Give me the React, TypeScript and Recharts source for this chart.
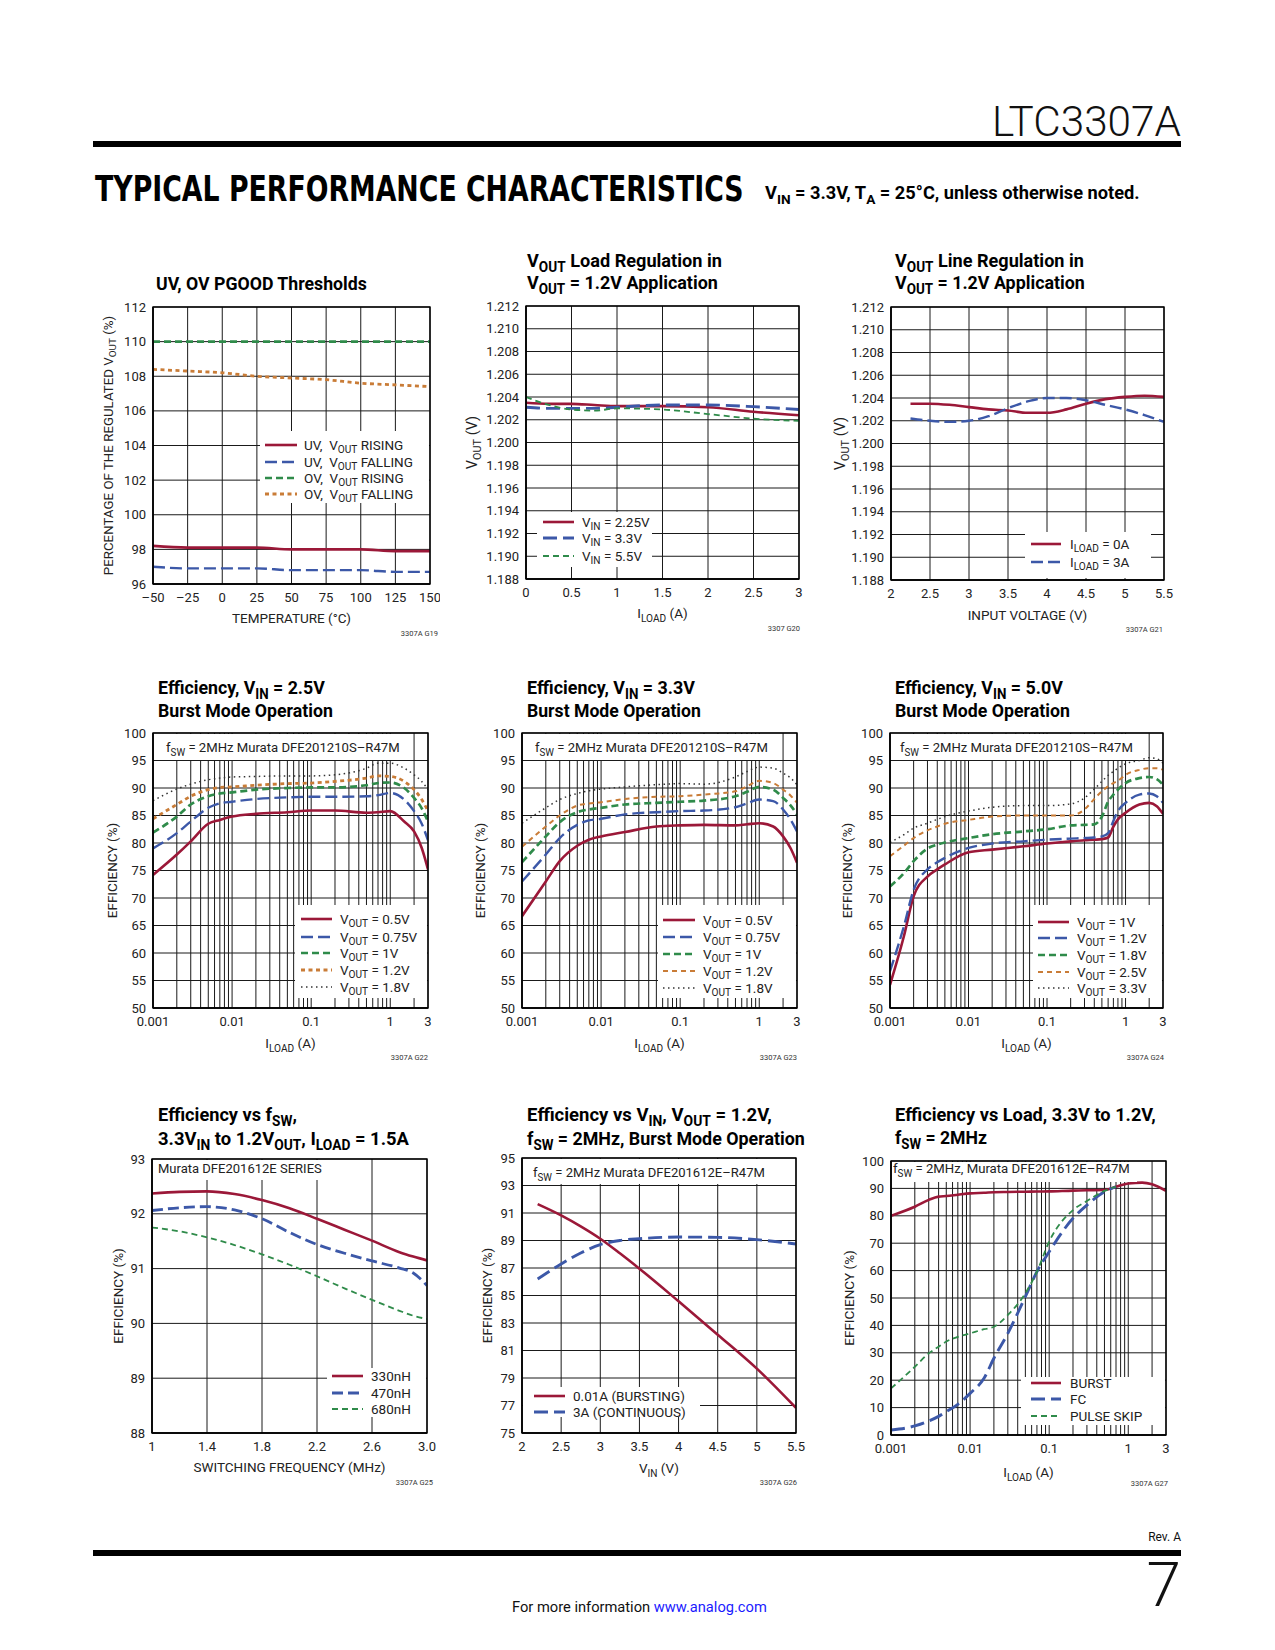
import React, { useLayoutEffect, useRef, useState } from 'react';
import { LineChart, Line, XAxis, YAxis, CartesianGrid } from 'recharts';

// ---------------- DATA ----------------
// G19 UV/OV PGOOD thresholds
const g19Temp = [-50, -25, 0, 25, 50, 75, 100, 125, 150];
const g19UvRising = [98.2, 98.1, 98.1, 98.1, 98.0, 98.0, 98.0, 97.9, 97.9];
const g19UvFalling = [97.0, 96.9, 96.9, 96.9, 96.8, 96.8, 96.8, 96.7, 96.7];
const g19OvRising = [110, 110, 110, 110, 110, 110, 110, 110, 110];
const g19OvFalling = [108.4, 108.3, 108.2, 108.0, 107.9, 107.8, 107.6, 107.5, 107.4];
const g19XTicks = [-50, -25, 0, 25, 50, 75, 100, 125, 150];
const g19YTicks = [96, 98, 100, 102, 104, 106, 108, 110, 112];

// G20 load regulation
const g20Load = [0, 0.25, 0.5, 0.75, 1, 1.5, 2, 2.5, 3];
const g20Vin225 = [1.2035, 1.2034, 1.2034, 1.2033, 1.2032, 1.2032, 1.2031, 1.2027, 1.2024];
const g20Vin33 = [1.2031, 1.203, 1.203, 1.203, 1.2031, 1.2033, 1.2033, 1.20315, 1.2029];
const g20Vin55 = [1.204, 1.2033, 1.2029, 1.2028, 1.203, 1.2029, 1.2025, 1.2021, 1.2019];
const g20XTicks = [0, 0.5, 1, 1.5, 2, 2.5, 3];
const vYTicks = [1.188, 1.19, 1.192, 1.194, 1.196, 1.198, 1.2, 1.202, 1.204, 1.206, 1.208, 1.21, 1.212];

// G21 line regulation
const g21Vin = [2.25, 2.5, 2.75, 3.0, 3.25, 3.5, 3.75, 4.0, 4.25, 4.5, 4.75, 5.0, 5.25, 5.5];
const g21Load0 = [1.2035, 1.2035, 1.2034, 1.2032, 1.203, 1.2029, 1.2027, 1.2027, 1.203, 1.2035, 1.2039, 1.2041, 1.2042, 1.2041];
const g21Load3 = [1.2022, 1.202, 1.2019, 1.202, 1.2024, 1.2031, 1.2037, 1.204, 1.204, 1.2038, 1.2034, 1.203, 1.2025, 1.2019];
const g21XTicks = [2, 2.5, 3, 3.5, 4, 4.5, 5, 5.5];

// log load axis (G22, G23, G24, G27)
const logTicks = [0.001, 0.01, 0.1, 1, 3];
const logGrid = [0.001, 0.002, 0.003, 0.004, 0.005, 0.006, 0.007, 0.008, 0.009, 0.01, 0.02, 0.03, 0.04, 0.05, 0.06, 0.07, 0.08, 0.09, 0.1, 0.2, 0.3, 0.4, 0.5, 0.6, 0.7, 0.8, 0.9, 1, 2, 3];
const effTicks = [50, 55, 60, 65, 70, 75, 80, 85, 90, 95, 100];

// G22 efficiency VIN = 2.5V
const g22Load = [0.001, 0.002, 0.003, 0.005, 0.007, 0.01, 0.02, 0.05, 0.1, 0.2, 0.5, 0.7, 1, 1.5, 2, 2.5, 3];
const g22Vout05 = [74.2, 77.9, 80.3, 83.5, 84.2, 84.8, 85.3, 85.6, 85.9, 85.9, 85.5, 85.6, 85.8, 83.9, 82.1, 79.1, 75.2];
const g22Vout075 = [79.0, 81.8, 83.9, 86.4, 87.2, 87.5, 88.0, 88.3, 88.4, 88.4, 88.5, 88.7, 89.1, 87.9, 85.8, 83.5, 80.5];
const g22Vout1 = [81.9, 84.8, 87.0, 88.5, 89.0, 89.2, 89.7, 90.0, 90.1, 90.1, 90.5, 90.9, 91.0, 90.0, 88.2, 86.3, 83.9];
const g22Vout12 = [84.4, 87.0, 88.5, 89.7, 90.1, 90.2, 90.5, 90.8, 90.9, 91.2, 91.8, 92.2, 92.1, 91.2, 89.7, 87.9, 85.8];
const g22Vout18 = [87.7, 89.8, 90.7, 91.5, 91.8, 92.0, 92.1, 92.2, 92.2, 92.4, 93.6, 94.5, 94.5, 93.6, 92.4, 91.2, 89.7];

// G23 efficiency VIN = 3.3V
const g23Load = [0.001, 0.002, 0.003, 0.005, 0.007, 0.01, 0.02, 0.05, 0.1, 0.2, 0.5, 0.7, 1, 1.5, 2, 2.5, 3];
const g23Vout05 = [66.7, 73.0, 76.7, 79.5, 80.6, 81.2, 82.0, 83.0, 83.2, 83.3, 83.2, 83.4, 83.6, 83.0, 81.2, 79.0, 76.4];
const g23Vout075 = [73.0, 77.9, 80.9, 83.3, 84.1, 84.4, 85.2, 85.6, 85.8, 85.9, 86.5, 87.2, 87.9, 87.6, 86.1, 84.2, 82.1];
const g23Vout1 = [76.5, 81.2, 83.8, 85.6, 86.1, 86.4, 87.0, 87.3, 87.5, 87.7, 88.5, 89.3, 90.2, 89.7, 88.2, 86.8, 85.2];
const g23Vout12 = [79.3, 83.0, 85.0, 86.8, 87.2, 87.4, 88.0, 88.4, 88.5, 88.8, 89.4, 90.3, 91.3, 90.9, 89.7, 88.6, 87.3];
const g23Vout18 = [83.6, 86.4, 87.9, 89.0, 89.5, 89.8, 90.2, 90.6, 90.8, 90.7, 92.0, 93.0, 93.8, 93.6, 92.7, 91.8, 90.6];

// G24 efficiency VIN = 5.0V
const g24Load = [0.001, 0.0015, 0.002, 0.003, 0.004, 0.005, 0.01, 0.02, 0.05, 0.1, 0.2, 0.3, 0.4, 0.5, 0.6, 0.7, 0.8, 1, 1.5, 2, 2.5, 3];
const g24Vout1 = [54.2, 63.0, 70.3, 73.9, 75.2, 76.1, 78.3, 78.8, 79.4, 79.9, 80.3, 80.5, 80.6, 80.7, 81.0, 83.0, 84.3, 85.5, 87.0, 87.3, 86.7, 85.3];
const g24Vout12 = [56.7, 64.8, 71.5, 75.2, 76.5, 77.3, 79.1, 79.9, 80.3, 80.6, 80.8, 80.9, 81.0, 81.2, 81.8, 84.0, 85.8, 87.3, 88.8, 89.0, 88.5, 87.3];
const g24Vout18 = [72.1, 74.5, 76.7, 79.0, 79.7, 80.1, 80.9, 81.6, 82.1, 82.5, 83.2, 83.3, 83.4, 84.8, 87.5, 88.8, 89.7, 90.9, 91.8, 92.0, 91.6, 90.6];
const g24Vout25 = [77.6, 79.5, 80.9, 82.3, 83.0, 83.5, 84.2, 84.8, 85.0, 85.0, 85.0, 86.1, 88.0, 89.4, 90.3, 90.9, 91.3, 92.4, 93.3, 93.6, 93.6, 93.3];
const g24Vout33 = [80.1, 81.5, 82.7, 83.6, 84.3, 84.8, 85.8, 86.5, 86.8, 86.8, 87.1, 88.2, 89.8, 91.2, 92.3, 93.0, 93.6, 94.4, 95.0, 95.5, 95.3, 94.5];

// G25 efficiency vs fSW
const g25Freq = [1.0, 1.2, 1.4, 1.6, 1.8, 2.0, 2.2, 2.4, 2.6, 2.8, 2.9, 3.0];
const g25L330 = [92.37, 92.4, 92.41, 92.36, 92.25, 92.1, 91.91, 91.71, 91.51, 91.3, 91.22, 91.15];
const g25L470 = [92.06, 92.11, 92.13, 92.07, 91.91, 91.66, 91.44, 91.28, 91.14, 91.01, 90.92, 90.69];
const g25L680 = [91.75, 91.68, 91.57, 91.43, 91.26, 91.07, 90.86, 90.64, 90.43, 90.23, 90.14, 90.08];
const g25XTicks = [1, 1.4, 1.8, 2.2, 2.6, 3];
const g25YTicks = [88, 89, 90, 91, 92, 93];

// G26 efficiency vs VIN
const g26Vin = [2.2, 2.5, 2.75, 3.0, 3.25, 3.5, 4.0, 4.5, 5.0, 5.5];
const g26Bursting = [91.65, 90.83, 90.03, 89.13, 88.07, 86.95, 84.58, 82.15, 79.68, 76.82];
const g26Continuous = [86.2, 87.29, 88.09, 88.7, 89.0, 89.13, 89.25, 89.23, 89.06, 88.75];
const g26XTicks = [2, 2.5, 3, 3.5, 4, 4.5, 5, 5.5];
const g26YTicks = [75, 77, 79, 81, 83, 85, 87, 89, 91, 93, 95];

// G27 efficiency vs load, modes
const g27Load = [0.001, 0.002, 0.003, 0.004, 0.005, 0.007, 0.01, 0.015, 0.02, 0.03, 0.05, 0.07, 0.1, 0.2, 0.3, 0.5, 0.7, 1, 1.5, 2, 3];
const g27Burst = [80.0, 83.3, 85.8, 87.0, 87.2, 87.7, 88.2, 88.4, 88.6, 88.7, 88.8, 88.85, 88.9, 89.2, 89.3, 89.4, 90.6, 91.8, 92.1, 91.5, 89.1];
const g27LoadLow = [0.001, 0.002, 0.003, 0.004, 0.005, 0.007, 0.01, 0.015, 0.02, 0.03, 0.05, 0.07, 0.1, 0.2, 0.3, 0.5, 0.7];
const g27Fc = [1.8, 3.3, 5.1, 6.8, 8.5, 11.2, 15.2, 20.7, 28.0, 37.1, 50.5, 59.6, 66.9, 79.1, 83.9, 88.8, 90.6];
const g27PulseSkip = [17.0, 24.9, 29.8, 32.2, 34.1, 35.8, 37.1, 38.6, 39.5, 43.8, 51.7, 59.6, 70.6, 82.1, 85.4, 89.1, 90.6];
const g27YTicks = [0, 10, 20, 30, 40, 50, 60, 70, 80, 90, 100];

// ---------------- STYLE ----------------
const FONT = "Roboto, 'Liberation Sans', Arial, sans-serif";
const RED = '#9b1838';
const BLUE = '#3c58a8';
const GREEN = '#2f8b4a';
const ORANGE = '#c97c37';
const DARK = '#333333';

const ST: Record<string, any> = {
  red: { stroke: RED, strokeWidth: 2.6 },
  blue: { stroke: BLUE, strokeWidth: 2.4, strokeDasharray: '12 5' },
  blueThick: { stroke: BLUE, strokeWidth: 2.9, strokeDasharray: '14 6' },
  green: { stroke: GREEN, strokeWidth: 2.7, strokeDasharray: '7 4' },
  greenThin: { stroke: GREEN, strokeWidth: 1.8, strokeDasharray: '6 4' },
  orangeDot: { stroke: ORANGE, strokeWidth: 2.8, strokeDasharray: '4 3.5' },
  orangeDash: { stroke: ORANGE, strokeWidth: 2, strokeDasharray: '5 4' },
  dotted: { stroke: DARK, strokeWidth: 1.5, strokeDasharray: '1.5 3.5' },
};

const pts = (xs: number[], ys: number[]) => xs.map((x, i) => ({ x, y: ys[i] }));

type Seg = { t: string; sub: boolean };
const parse = (s: string): Seg[] => {
  const out: Seg[] = [];
  const re = /_\{([^}]*)\}/g;
  let last = 0;
  let m: RegExpExecArray | null;
  while ((m = re.exec(s))) {
    if (m.index > last) out.push({ t: s.slice(last, m.index), sub: false });
    out.push({ t: m[1], sub: true });
    last = re.lastIndex;
  }
  if (last < s.length) out.push({ t: s.slice(last), sub: false });
  return out;
};

const Rich = ({ s, fs }: { s: string; fs: number }) => {
  const segs = parse(s);
  let cur = 0;
  return (
    <>
      {segs.map((g, i) => {
        const target = g.sub ? fs * 0.27 : 0;
        const dy = target - cur;
        cur = target;
        return (
          <tspan key={i} dy={dy === 0 ? undefined : dy} fontSize={g.sub ? fs * 0.75 : fs}>
            {g.t}
          </tspan>
        );
      })}
    </>
  );
};

// text squeezed horizontally to a target width with a transform
function FitText({ x, y, width, children, ...rest }: any) {
  const ref = useRef<SVGTextElement>(null);
  const [sx, setSx] = useState(1);
  useLayoutEffect(() => {
    if (ref.current) {
      const w = ref.current.getComputedTextLength();
      if (w > 0) setSx(width / w);
    }
  }, [width]);
  return (
    <text ref={ref} x={0} y={0} transform={`translate(${x} ${y}) scale(${sx} 1)`} style={{ whiteSpace: 'pre' }} {...rest}>
      {children}
    </text>
  );
}

type Series = { name: string; style: any; xs: number[]; ys: number[] };
type ChartDef = {
  plot: [number, number, number, number];
  titleX: number;
  title: { s: string; y: number; len: number }[];
  xDomain: [number, number];
  xTicks: number[];
  xGrid: number[];
  xLog?: boolean;
  xFmt?: (v: number) => string;
  yDomain: [number, number];
  yTicks: number[];
  yGrid: number[];
  yFmt?: (v: number) => string;
  xTitle: string;
  xTitleY: number;
  yTitle: string;
  yTitleX: number;
  yTitleFs: number;
  series: Series[];
  legend: { box: [number, number, number, number]; rows: number[]; sample: [number, number]; textX: number };
  note?: { s: string; box: [number, number, number, number]; x: number; y: number; len: number };
  code: string;
  codeRight: number;
  codeY: number;
};

const fmt3 = (v: number) => v.toFixed(3);

const charts: ChartDef[] = [
  {
    plot: [153, 307, 277, 277],
    titleX: 156,
    title: [{ s: 'UV, OV PGOOD Thresholds', y: 290, len: 211 }],
    xDomain: [-50, 150], xTicks: g19XTicks, xGrid: g19XTicks,
    xFmt: (v) => (v < 0 ? `\u2013${-v}` : `${v}`),
    yDomain: [96, 112], yTicks: g19YTicks, yGrid: g19YTicks,
    xTitle: 'TEMPERATURE (\u00b0C)', xTitleY: 618,
    yTitle: 'PERCENTAGE OF THE REGULATED V_{OUT} (%)', yTitleX: 108, yTitleFs: 13.3,
    series: [
      { name: 'UV,  V_{OUT} RISING', style: ST.red, xs: g19Temp, ys: g19UvRising },
      { name: 'UV,  V_{OUT} FALLING', style: ST.blue, xs: g19Temp, ys: g19UvFalling },
      { name: 'OV,  V_{OUT} RISING', style: ST.green, xs: g19Temp, ys: g19OvRising },
      { name: 'OV,  V_{OUT} FALLING', style: ST.orangeDot, xs: g19Temp, ys: g19OvFalling },
    ],
    legend: { box: [260, 431, 169, 72], rows: [445, 462, 478, 494], sample: [265, 297], textX: 304 },
    code: '3307A G19', codeRight: 438, codeY: 636,
  },
  {
    plot: [526, 306, 273, 273],
    titleX: 527,
    title: [
      { s: 'V_{OUT} Load Regulation in', y: 267, len: 195 },
      { s: 'V_{OUT} = 1.2V Application', y: 289, len: 191 },
    ],
    xDomain: [0, 3], xTicks: g20XTicks, xGrid: g20XTicks,
    yDomain: [1.188, 1.212], yTicks: vYTicks, yGrid: vYTicks, yFmt: fmt3,
    xTitle: 'I_{LOAD} (A)', xTitleY: 613,
    yTitle: 'V_{OUT} (V)', yTitleX: 472, yTitleFs: 14.5,
    series: [
      { name: 'V_{IN} = 2.25V', style: ST.red, xs: g20Load, ys: g20Vin225 },
      { name: 'V_{IN} = 3.3V', style: ST.blueThick, xs: g20Load, ys: g20Vin33 },
      { name: 'V_{IN} = 5.5V', style: ST.greenThin, xs: g20Load, ys: g20Vin55 },
    ],
    legend: { box: [537, 512, 115, 55], rows: [522, 538, 556], sample: [543, 574], textX: 582 },
    code: '3307 G20', codeRight: 800, codeY: 631,
  },
  {
    plot: [891, 307, 273, 273],
    titleX: 895,
    title: [
      { s: 'V_{OUT} Line Regulation in', y: 267, len: 189 },
      { s: 'V_{OUT} = 1.2V Application', y: 289, len: 190 },
    ],
    xDomain: [2, 5.5], xTicks: g21XTicks, xGrid: g21XTicks,
    yDomain: [1.188, 1.212], yTicks: vYTicks, yGrid: vYTicks, yFmt: fmt3,
    xTitle: 'INPUT VOLTAGE (V)', xTitleY: 615,
    yTitle: 'V_{OUT} (V)', yTitleX: 840, yTitleFs: 14.5,
    series: [
      { name: 'I_{LOAD} = 0A', style: ST.red, xs: g21Vin, ys: g21Load0 },
      { name: 'I_{LOAD} = 3A', style: ST.blue, xs: g21Vin, ys: g21Load3 },
    ],
    legend: { box: [1025, 532, 126, 46], rows: [544, 562], sample: [1031, 1061], textX: 1070 },
    code: '3307A G21', codeRight: 1163, codeY: 632,
  },
  {
    plot: [153, 733, 275, 275],
    titleX: 158,
    title: [
      { s: 'Efficiency, V_{IN} = 2.5V', y: 694, len: 167 },
      { s: 'Burst Mode Operation', y: 717, len: 175 },
    ],
    xDomain: [0.001, 3], xTicks: logTicks, xGrid: logGrid, xLog: true,
    yDomain: [50, 100], yTicks: effTicks, yGrid: effTicks,
    xTitle: 'I_{LOAD} (A)', xTitleY: 1043,
    yTitle: 'EFFICIENCY (%)', yTitleX: 112, yTitleFs: 13.5,
    series: [
      { name: 'V_{OUT} = 0.5V', style: ST.red, xs: g22Load, ys: g22Vout05 },
      { name: 'V_{OUT} = 0.75V', style: ST.blue, xs: g22Load, ys: g22Vout075 },
      { name: 'V_{OUT} = 1V', style: ST.green, xs: g22Load, ys: g22Vout1 },
      { name: 'V_{OUT} = 1.2V', style: ST.orangeDot, xs: g22Load, ys: g22Vout12 },
      { name: 'V_{OUT} = 1.8V', style: ST.dotted, xs: g22Load, ys: g22Vout18 },
    ],
    legend: { box: [295, 905, 132, 93], rows: [919, 937, 953, 970, 987], sample: [301, 332], textX: 340 },
    note: { s: 'f_{SW} = 2MHz Murata DFE201210S\u2013R47M', box: [154, 734, 256, 26], x: 166, y: 752, len: 234 },
    code: '3307A G22', codeRight: 428, codeY: 1060,
  },
  {
    plot: [522, 733, 275, 275],
    titleX: 527,
    title: [
      { s: 'Efficiency, V_{IN} = 3.3V', y: 694, len: 168 },
      { s: 'Burst Mode Operation', y: 717, len: 174 },
    ],
    xDomain: [0.001, 3], xTicks: logTicks, xGrid: logGrid, xLog: true,
    yDomain: [50, 100], yTicks: effTicks, yGrid: effTicks,
    xTitle: 'I_{LOAD} (A)', xTitleY: 1043,
    yTitle: 'EFFICIENCY (%)', yTitleX: 480, yTitleFs: 13.5,
    series: [
      { name: 'V_{OUT} = 0.5V', style: ST.red, xs: g23Load, ys: g23Vout05 },
      { name: 'V_{OUT} = 0.75V', style: ST.blue, xs: g23Load, ys: g23Vout075 },
      { name: 'V_{OUT} = 1V', style: ST.green, xs: g23Load, ys: g23Vout1 },
      { name: 'V_{OUT} = 1.2V', style: ST.orangeDash, xs: g23Load, ys: g23Vout12 },
      { name: 'V_{OUT} = 1.8V', style: ST.dotted, xs: g23Load, ys: g23Vout18 },
    ],
    legend: { box: [658, 905, 138, 93], rows: [920, 937, 954, 971, 988], sample: [663, 695], textX: 703 },
    note: { s: 'f_{SW} = 2MHz Murata DFE201210S\u2013R47M', box: [523, 734, 257, 26], x: 535, y: 752, len: 233 },
    code: '3307A G23', codeRight: 797, codeY: 1060,
  },
  {
    plot: [890, 733, 273, 275],
    titleX: 895,
    title: [
      { s: 'Efficiency, V_{IN} = 5.0V', y: 694, len: 168 },
      { s: 'Burst Mode Operation', y: 717, len: 175 },
    ],
    xDomain: [0.001, 3], xTicks: logTicks, xGrid: logGrid, xLog: true,
    yDomain: [50, 100], yTicks: effTicks, yGrid: effTicks,
    xTitle: 'I_{LOAD} (A)', xTitleY: 1043,
    yTitle: 'EFFICIENCY (%)', yTitleX: 847, yTitleFs: 13.5,
    series: [
      { name: 'V_{OUT} = 1V', style: ST.red, xs: g24Load, ys: g24Vout1 },
      { name: 'V_{OUT} = 1.2V', style: ST.blue, xs: g24Load, ys: g24Vout12 },
      { name: 'V_{OUT} = 1.8V', style: ST.green, xs: g24Load, ys: g24Vout18 },
      { name: 'V_{OUT} = 2.5V', style: ST.orangeDash, xs: g24Load, ys: g24Vout25 },
      { name: 'V_{OUT} = 3.3V', style: ST.dotted, xs: g24Load, ys: g24Vout33 },
    ],
    legend: { box: [1033, 905, 129, 93], rows: [922, 938, 955, 972, 988], sample: [1038, 1069], textX: 1077 },
    note: { s: 'f_{SW} = 2MHz Murata DFE201210S\u2013R47M', box: [891, 734, 252, 26], x: 900, y: 752, len: 233 },
    code: '3307A G24', codeRight: 1164, codeY: 1060,
  },
  {
    plot: [152, 1159, 275, 274],
    titleX: 158,
    title: [
      { s: 'Efficiency vs f_{SW},', y: 1121, len: 139 },
      { s: '3.3V_{IN} to 1.2V_{OUT}, I_{LOAD} = 1.5A', y: 1145, len: 251 },
    ],
    xDomain: [1, 3], xTicks: g25XTicks, xGrid: g25XTicks,
    xFmt: (v) => (v === 1 ? '1' : v.toFixed(1)),
    yDomain: [88, 93], yTicks: g25YTicks, yGrid: g25YTicks,
    xTitle: 'SWITCHING FREQUENCY (MHz)', xTitleY: 1467,
    yTitle: 'EFFICIENCY (%)', yTitleX: 118, yTitleFs: 13.5,
    series: [
      { name: '330nH', style: ST.red, xs: g25Freq, ys: g25L330 },
      { name: '470nH', style: { ...ST.blue, strokeWidth: 2.8, strokeDasharray: '11 5' }, xs: g25Freq, ys: g25L470 },
      { name: '680nH', style: ST.greenThin, xs: g25Freq, ys: g25L680 },
    ],
    legend: { box: [327, 1368, 99, 49], rows: [1376, 1393, 1409], sample: [332, 363], textX: 371 },
    note: { s: 'Murata DFE201612E SERIES', box: [153, 1160, 177, 20], x: 158, y: 1173, len: 164 },
    code: '3307A G25', codeRight: 433, codeY: 1485,
  },
  {
    plot: [522, 1158, 274, 275],
    titleX: 527,
    title: [
      { s: 'Efficiency vs V_{IN}, V_{OUT} = 1.2V,', y: 1121, len: 245 },
      { s: 'f_{SW} = 2MHz, Burst Mode Operation', y: 1145, len: 278 },
    ],
    xDomain: [2, 5.5], xTicks: g26XTicks, xGrid: g26XTicks,
    yDomain: [75, 95], yTicks: g26YTicks, yGrid: g26YTicks,
    xTitle: 'V_{IN} (V)', xTitleY: 1468,
    yTitle: 'EFFICIENCY (%)', yTitleX: 487, yTitleFs: 13.5,
    series: [
      { name: '0.01A (BURSTING)', style: ST.red, xs: g26Vin, ys: g26Bursting },
      { name: '3A (CONTINUOUS)', style: ST.blueThick, xs: g26Vin, ys: g26Continuous },
    ],
    legend: { box: [523, 1387, 177, 30], rows: [1396, 1412], sample: [534, 565], textX: 573 },
    note: { s: 'f_{SW} = 2MHz Murata DFE201612E\u2013R47M', box: [523, 1159, 250, 25], x: 533, y: 1177, len: 232 },
    code: '3307A G26', codeRight: 797, codeY: 1485,
  },
  {
    plot: [891, 1161, 275, 274],
    titleX: 895,
    title: [
      { s: 'Efficiency vs Load, 3.3V to 1.2V,', y: 1121, len: 261 },
      { s: 'f_{SW} = 2MHz', y: 1144, len: 92 },
    ],
    xDomain: [0.001, 3], xTicks: logTicks, xGrid: logGrid, xLog: true,
    yDomain: [0, 100], yTicks: g27YTicks, yGrid: g27YTicks,
    xTitle: 'I_{LOAD} (A)', xTitleY: 1472,
    yTitle: 'EFFICIENCY (%)', yTitleX: 849, yTitleFs: 13.5,
    series: [
      { name: 'BURST', style: ST.red, xs: g27Load, ys: g27Burst },
      { name: 'FC', style: ST.blueThick, xs: g27LoadLow, ys: g27Fc },
      { name: 'PULSE SKIP', style: ST.greenThin, xs: g27LoadLow, ys: g27PulseSkip },
    ],
    legend: { box: [1021, 1377, 144, 48], rows: [1383, 1399, 1416], sample: [1031, 1061], textX: 1070 },
    note: { s: 'f_{SW} = 2MHz, Murata DFE201612E\u2013R47M', box: [892, 1162, 245, 20], x: 893, y: 1173, len: 237 },
    code: '3307A G27', codeRight: 1168, codeY: 1486,
  },
];

const TICK = { fill: '#222', fontSize: 13, fontFamily: FONT };

function ChartPlot({ d }: { d: ChartDef }) {
  const [pl, pt, pw, ph] = d.plot;
  const YW = 70, XH = 50, MT = 10, MR = 10;
  return (
    <div style={{ position: 'absolute', left: pl - YW, top: pt - MT }}>
      <LineChart width={pw + YW + MR} height={ph + MT + XH} margin={{ top: MT, right: MR, bottom: 0, left: 0 }}>
        <CartesianGrid stroke="#1a1a1a" strokeWidth={1} horizontalValues={d.yGrid} verticalValues={d.xGrid} />
        <XAxis
          dataKey="x" type="number" scale={d.xLog ? 'log' : 'linear'} domain={d.xDomain} ticks={d.xTicks}
          interval={0} allowDataOverflow height={XH} tickLine={false} tickSize={4} tickMargin={5}
          axisLine={{ stroke: '#000', strokeWidth: 1.4 }} tick={TICK} tickFormatter={d.xFmt}
        />
        <YAxis
          dataKey="y" type="number" domain={d.yDomain} ticks={d.yTicks} interval={0} allowDataOverflow
          width={YW} tickLine={false} tickSize={3} tickMargin={4}
          axisLine={{ stroke: '#000', strokeWidth: 1.4 }} tick={TICK} tickFormatter={d.yFmt}
        />
        {d.series.map((s, i) => (
          <Line
            key={i} data={pts(s.xs, s.ys)} dataKey="y" type="monotone" dot={false} activeDot={false}
            isAnimationActive={false} {...s.style}
          />
        ))}
      </LineChart>
    </div>
  );
}

function ChartOverlay({ d }: { d: ChartDef }) {
  const [pl, pt, pw, ph] = d.plot;
  const lg = d.legend;
  const yfs = d.yTitleFs;
  const xfs = 13.5;
  return (
    <g fontFamily={FONT}>
      {d.title.map((ln, i) => (
        <FitText key={i} x={d.titleX} y={ln.y} width={ln.len} fontSize={18.5} fontWeight={700} fill="#000">
          <Rich s={ln.s} fs={18.5} />
        </FitText>
      ))}
      {d.note && (
        <g>
          <rect x={d.note.box[0]} y={d.note.box[1]} width={d.note.box[2]} height={d.note.box[3]} fill="#fff" />
          <FitText x={d.note.x} y={d.note.y} width={d.note.len} fontSize={13.5} fill="#222">
            <Rich s={d.note.s} fs={13.5} />
          </FitText>
        </g>
      )}
      <rect x={lg.box[0]} y={lg.box[1]} width={lg.box[2]} height={lg.box[3]} fill="#fff" />
      {d.series.map((s, i) => (
        <g key={i}>
          <line x1={lg.sample[0]} x2={lg.sample[1]} y1={lg.rows[i]} y2={lg.rows[i]} {...s.style} />
          <text x={lg.textX} y={lg.rows[i] + 4.7} fontSize={13.5} fill="#222" style={{ whiteSpace: 'pre' }}>
            <Rich s={s.name} fs={13.5} />
          </text>
        </g>
      ))}
      <rect x={pl} y={pt} width={pw} height={ph} fill="none" stroke="#000" strokeWidth={1.4} />
      <text x={pl + pw / 2} y={d.xTitleY + xfs * 0.36} textAnchor="middle" fontSize={xfs} fill="#222">
        <Rich s={d.xTitle} fs={xfs} />
      </text>
      <text
        x={d.yTitleX + yfs * 0.36} y={pt + ph / 2} textAnchor="middle" fontSize={yfs} fill="#222"
        transform={`rotate(-90 ${d.yTitleX + yfs * 0.36} ${pt + ph / 2})`}
      >
        <Rich s={d.yTitle} fs={yfs} />
      </text>
      <text x={d.codeRight} y={d.codeY} textAnchor="end" fontSize={7.5} fill="#333">{d.code}</text>
    </g>
  );
}

export default function App() {
  return (
    <div style={{ position: 'absolute', left: 0, top: 0, width: 1275, height: 1650, background: '#fff', overflow: 'hidden' }}>
      {charts.map((d, i) => (
        <ChartPlot key={i} d={d} />
      ))}
      <svg width={1275} height={1650} style={{ position: 'absolute', left: 0, top: 0, pointerEvents: 'none' }}>
        {/* header */}
        <FitText x={992} y={136} width={189} fontFamily={FONT} fontWeight={300} fontSize={43} fill="#111">LTC3307A</FitText>
        <rect x={93} y={141} width={1088} height={6} fill="#000" />
        <FitText x={95} y={201} width={649} fontFamily="'DejaVu Sans', sans-serif" fontWeight={900} fontSize={35} fill="#000">
          TYPICAL PERFORMANCE CHARACTERISTICS
        </FitText>
        <FitText x={765} y={199} width={375} fontFamily={FONT} fontWeight={700} fontSize={18} fill="#000">
          <Rich s={'V_{IN} = 3.3V, T_{A} = 25\u00b0C, unless otherwise noted.'} fs={18} />
        </FitText>
        {charts.map((d, i) => (
          <ChartOverlay key={i} d={d} />
        ))}
        {/* footer */}
        <text x={1181} y={1541} textAnchor="end" fontFamily={FONT} fontSize={12} fill="#111">Rev. A</text>
        <rect x={93} y={1550} width={1088} height={6} fill="#000" />
        <text x={1181} y={1606} textAnchor="end" fontFamily={FONT} fontWeight={300} fontSize={62} fill="#111">7</text>
        <FitText x={512} y={1612} width={255} fontFamily={FONT} fontSize={15.5} fill="#111">
          For more information <tspan fill="#1a1aff">www.analog.com</tspan>
        </FitText>
      </svg>
    </div>
  );
}
